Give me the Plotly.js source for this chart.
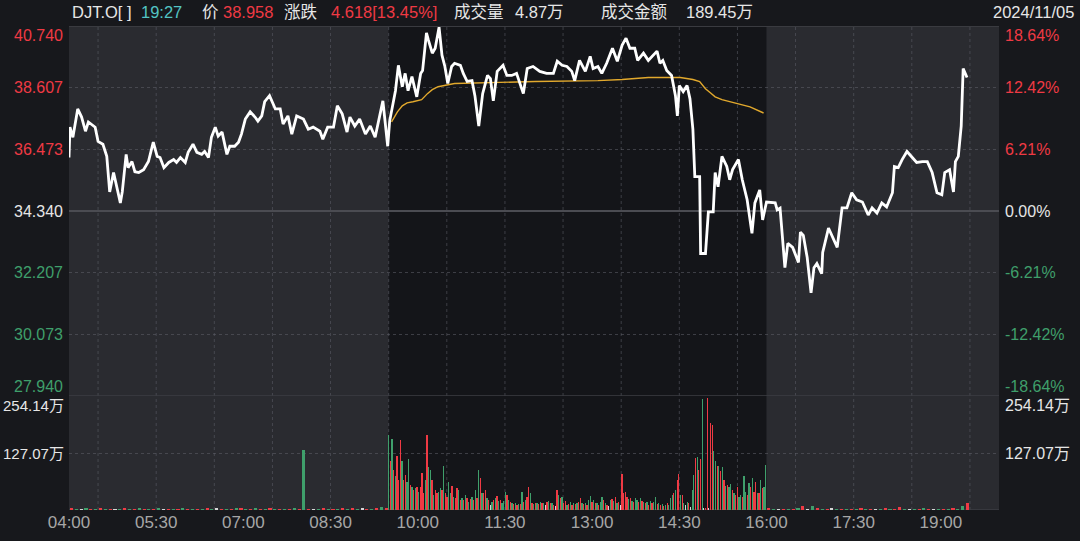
<!DOCTYPE html>
<html>
<head>
<meta charset="utf-8">
<script src="https://cdn.plot.ly/plotly-3.0.1.min.js"></script>
<style>html,body{margin:0;padding:0;background:#17181c;}#chart{width:1080px;height:541px;}</style>
</head>
<body>
<div id="chart"></div>
<script>
// ---------------- DATA ----------------
const tradeDate = [2024, 10, 5];
const prevClose = 34.340;

const priceTimes = ["04:00","04:01","04:04","04:09","04:13","04:17","04:20","04:23","04:27","04:30",
"04:35","04:39","04:42","04:46","04:49","04:53","04:55","04:59","05:01","05:05",
"05:08","05:12","05:17","05:22","05:27","05:31","05:34","05:38","05:43","05:48",
"05:51","05:55","06:00","06:03","06:08","06:12","06:17","06:20","06:24","06:27",
"06:31","06:34","06:38","06:43","06:46","06:51","06:55","06:58","07:02","07:07",
"07:12","07:15","07:19","07:22","07:27","07:33","07:38","07:41","07:46","07:50",
"07:55","08:02","08:07","08:12","08:19","08:22","08:27","08:33","08:37","08:42",
"08:47","08:50","08:55","09:00","09:06","09:11","09:16","09:21","09:24","09:29",
"09:31","09:37","09:40","09:44","09:47","09:50","09:54","09:59","10:03","10:05",
"10:09","10:11","10:15","10:18","10:22","10:25","10:28","10:31","10:35","10:38",
"10:44","10:47","10:51","10:56","10:59","11:03","11:07","11:12","11:15","11:18",
"11:22","11:28","11:32","11:37","11:42","11:49","11:53","11:59","12:06","12:13",
"12:20","12:24","12:29","12:34","12:39","12:42","12:47","12:53","12:58","13:01",
"13:06","13:10","13:15","13:21","13:26","13:31","13:35","13:39","13:44","13:47",
"13:53","13:58","14:03","14:07","14:10","14:13","14:17","14:22","14:26","14:28",
"14:30","14:34","14:38","14:41","14:44","14:46","14:51","14:52","14:57","15:00",
"15:05","15:07","15:10","15:14","15:19","15:22","15:25","15:31","15:35","15:40",
"15:45","15:48","15:53","15:56","16:00","16:09","16:11","16:14","16:19","16:22",
"16:27","16:33","16:35","16:38","16:42","16:46","16:49","16:52","16:57","16:58",
"17:04","17:08","17:13","17:18","17:23","17:28","17:33","17:39","17:45","17:49",
"17:54","17:59","18:04","18:10","18:12","18:16","18:20","18:25","18:30","18:35",
"18:41","18:46","18:51","18:56","19:01","19:04","19:09","19:13","19:15","19:18",
"19:21","19:23","19:27"];

const prices = [36.19,37.24,36.89,37.87,37.59,37.10,37.42,37.35,37.24,36.75,
36.65,36.23,35.00,35.67,35.25,34.62,35.00,36.30,35.84,36.05,
35.70,35.67,35.77,36.05,36.72,36.23,36.19,35.84,36.02,36.12,
36.02,36.19,36.02,36.37,36.65,36.37,36.30,36.40,36.19,36.89,
37.24,36.93,37.07,36.30,36.58,36.58,36.72,37.00,37.52,37.77,
37.59,37.45,37.63,38.12,38.33,37.87,37.87,37.35,37.63,37.00,
37.63,37.52,37.17,37.24,37.10,36.82,37.24,37.24,37.98,37.70,
37.07,37.59,37.28,37.52,37.00,37.28,36.89,37.63,38.15,36.58,
37.45,38.50,39.38,38.64,39.10,38.50,38.99,38.29,39.10,39.20,
40.50,40.25,39.80,39.97,40.70,39.73,39.34,38.75,39.34,39.45,
39.38,39.10,38.82,38.85,38.33,37.28,38.40,39.03,38.92,38.15,
39.17,39.38,39.03,39.03,39.10,38.40,39.27,39.34,39.17,39.10,
39.10,39.52,39.38,39.34,39.17,38.85,39.55,39.17,39.69,39.27,
39.34,39.10,39.45,39.97,39.52,40.08,40.32,39.97,39.97,39.55,
39.80,39.55,39.73,39.87,39.45,39.55,39.20,39.03,38.33,37.63,
38.68,38.47,38.68,38.22,37.17,35.53,35.53,32.87,32.87,34.31,
34.31,35.67,35.18,36.23,35.88,35.42,35.77,36.12,35.42,34.73,
33.57,34.62,35.07,34.03,34.65,34.62,34.38,34.44,32.38,33.22,
33.08,32.56,33.61,33.50,32.73,31.51,32.38,32.52,32.17,32.91,
33.75,33.43,33.08,34.45,34.45,34.97,34.73,34.65,34.20,34.45,
34.27,34.62,34.48,34.97,35.88,35.84,36.12,36.40,36.19,36.02,
36.05,36.05,35.67,34.97,34.90,35.67,35.77,35.00,36.05,36.23,
37.28,39.27,38.958];

const vwapTimes = ["09:33","09:39","09:44","09:49","09:55","10:04","10:10","10:15","10:21","10:30",
"10:38","12:01","13:06","13:31","13:58","14:31","14:44","14:51","14:57","15:02",
"15:07","15:14","15:22","15:33","15:43","15:57"];
const vwap = [37.42,37.77,37.98,38.08,38.12,38.19,38.40,38.54,38.64,38.71,
38.75,38.82,38.85,38.89,38.96,38.96,38.89,38.82,38.57,38.43,
38.29,38.19,38.12,38.05,37.94,37.73];

// volume (万股)
const preStart = "04:00", preStep = 5;
const preVol = [4,2,3,5,2,3,4,2,3,2, 3,4,2,3,5,3,2,3,4,3, 2,3,2,4,3,2,3,2,5,3,
                4,3,2,3,4,5,3,2,4,3, 3,4,2,3,2,3,4,3,133,3, 2,3,4,3,2,3,4,3,5,3, 4,3,2,4,6,5];
const preDir = "rgwgrgrgrwgrgrgrgrgwrgrgrgrgrgwrgrgrgrgrgrgrgrgrgrwgrgrgrgrgwrgrgr";

const regStart = "09:30", regEnd = "15:59";
const regVol = [168.2,108.4,158.5,89.7,74.8,121.1,67.3,157.0,108.4,67.3,
78.5,63.5,113.6,56.1,52.3,44.9,48.6,52.3,41.1,50.8,
82.2,37.4,67.3,168.2,95.7,89.7,67.3,33.6,44.9,37.4,
41.1,48.6,44.9,97.2,37.4,29.9,62.0,37.4,53.8,29.9,
26.2,48.6,44.9,22.4,26.2,22.4,33.6,26.2,18.7,23.9,
29.9,22.4,44.9,26.2,88.2,71.0,37.4,37.4,44.9,26.2,
22.4,11.2,18.7,22.4,26.2,32.1,20.9,22.4,16.4,20.9,
41.1,33.6,22.4,18.7,16.4,13.5,15.0,11.2,13.5,13.5,
41.1,18.7,22.4,29.9,50.8,37.4,15.0,13.5,15.0,15.0,
13.5,18.7,15.0,16.4,11.2,18.7,20.9,16.4,15.0,11.2,
9.0,44.9,33.6,26.2,29.9,15.0,20.9,11.2,13.5,18.7,
11.2,15.0,13.5,15.0,18.7,26.2,15.0,13.5,16.4,11.2,
22.4,31.4,18.7,22.4,16.4,15.0,11.2,18.7,29.9,22.4,
16.4,11.2,9.0,22.4,23.9,20.9,29.9,15.0,18.7,11.2,
80.0,37.4,41.1,29.9,23.9,26.2,20.9,18.7,26.2,22.4,
18.7,26.2,20.9,18.7,15.0,18.7,11.2,20.9,15.0,18.7,
28.4,13.5,16.4,11.2,13.5,9.0,11.2,15.0,11.2,26.2,
33.6,37.4,44.9,67.3,80.0,33.6,33.6,15.0,11.2,18.7,
15.0,7.5,44.9,78.5,115.9,118.1,89.7,114.4,248.2,3.7,
3.7,250.4,5.2,194.4,190.6,130.8,108.4,97.2,98.7,86.0,
95.7,67.3,53.8,56.1,50.8,58.3,44.9,37.4,33.6,52.3,
29.9,33.6,29.9,74.8,41.1,33.6,59.8,52.3,71.0,41.1,
63.5,37.4,38.9,67.3,48.6,50.8,100.9];
const regDir = "grgrgrrrgr" + "rggrgrgrgr" + "rrgrggrgrr" + "ggrgrrggrg" + "rrgrgrgrgr" +
               "grgrgrgrrg" + "rwgrgrgrgg" + "grgrgrgrgr" + "grgrrgrgrg" + "rgrgwrgrgr" +
               "wrgrgrrgrg" + "rgrgrrgrgr" + "ggrgrgrggr" + "grwgrgrgrw" + "rrrrgrgrgg" +
               "rgrgrgrgrg" + "grgrgrgrgg" + "grgrrgrgwg" + "rwggrgrrgw" + "rrwrrggrgr" +
               "grgrggrgrr" + "ggrggrgrgr" + "rgrgrgg";

const postStart = "16:00", postStep = 5;
const postVol = [4,3,2,3,2,3,4,8,3,10, 5,3,2,4,3,2,3,2,3,4, 3,2,3,2,4,3,3,7,3,2,
                 3,2,4,3,2,3,2,3,4,3, 8,15];
const postDir = "rgwrgrgrwg" + "rgrwgrgrgr" + "grwgrgrrgw" + "grgrwgrgrg" + "gr";

const xTickTimes = ["04:00","05:30","07:00","08:30","10:00","11:30","13:00","14:30","16:00","17:30","19:00"];
const vGridTimes = ["04:30","05:30","06:30","07:30","08:30","09:30","10:30","11:30","12:30","13:30",
                    "14:30","15:30","16:30","17:30","18:30","19:30"];
const priceTicks = [40.740, 38.607, 36.473, 34.340, 32.207, 30.073, 27.940];
const priceTickText = ["40.740","38.607","36.473","34.340","32.207","30.073","27.940"];
const pctTickText = ["18.64%","12.42%","6.21%","0.00%","-6.21%","-12.42%","-18.64%"];
const volTicks = [254.14, 127.07];
const volTickText = ["254.14万", "127.07万"];

const header = {symbol: "DJT.O[ ]", time: "19:27", priceLabel: "价", price: "38.958",
  chgLabel: "涨跌", chg: "4.618[13.45%]", volLabel: "成交量", vol: "4.87万",
  amtLabel: "成交金额", amt: "189.45万", date: "2024/11/05"};

// ---------------- BUILD ----------------
function toMs(t) { const [h, m] = t.split(":").map(Number); return Date.UTC(tradeDate[0], tradeDate[1], tradeDate[2], h, m); }
const MIN = 60000;
const RED = "#ef3a44", GREEN = "#3f9f6b", WHITE = "#d6d6d6", LABELW = "#e6e6e6";
const dirColor = c => c === "r" ? RED : (c === "g" ? GREEN : WHITE);
const FONT = "Liberation Sans, Arial, Helvetica, Noto Sans CJK SC, sans-serif";

const preX = preVol.map((v, i) => toMs(preStart) + i * preStep * MIN + preStep * MIN / 2);
const postX = postVol.map((v, i) => toMs(postStart) + i * postStep * MIN + postStep * MIN / 2);
const regStep = (toMs(regEnd) - toMs(regStart)) / (regVol.length - 1);
const regX = regVol.map((v, i) => toMs(regStart) + i * regStep);

const traces = [
  {type: "bar", x: preX, y: preVol, xaxis: "x", yaxis: "y2", width: 3.2 * MIN,
   marker: {color: preVol.map((v, i) => dirColor(preDir[i])), line: {width: 0}}, hoverinfo: "skip"},
  {type: "bar", x: regX, y: regVol, xaxis: "x", yaxis: "y2", width: regStep * 0.78,
   marker: {color: regVol.map((v, i) => dirColor(regDir[i])), line: {width: 0}}, hoverinfo: "skip"},
  {type: "bar", x: postX, y: postVol, xaxis: "x", yaxis: "y2", width: 3.2 * MIN,
   marker: {color: postVol.map((v, i) => dirColor(postDir[i])), line: {width: 0}}, hoverinfo: "skip"},
  {type: "scatter", mode: "lines", x: vwapTimes.map(toMs), y: vwap, xaxis: "x", yaxis: "y",
   line: {color: "#e2a92d", width: 1.4}, hoverinfo: "skip"},
  {type: "scatter", mode: "lines", x: priceTimes.map(toMs), y: prices, xaxis: "x", yaxis: "y",
   line: {color: "#ffffff", width: 2.8}, hoverinfo: "skip"}
];

const GRID = "rgba(95,97,105,0.55)";
const shapes = [
  {type: "rect", layer: "below", xref: "x", yref: "paper", x0: toMs("04:00"), x1: toMs("09:30"), y0: 0, y1: 1, fillcolor: "#2a2b30", line: {width: 0}},
  {type: "rect", layer: "below", xref: "x", yref: "paper", x0: toMs("09:30"), x1: toMs("16:00"), y0: 0, y1: 1, fillcolor: "#141519", line: {width: 0}},
  {type: "rect", layer: "below", xref: "x", yref: "paper", x0: toMs("16:00"), x1: toMs("20:00"), y0: 0, y1: 1, fillcolor: "#2a2b30", line: {width: 0}}
];
vGridTimes.forEach(t => shapes.push({type: "line", layer: "below", xref: "x", yref: "paper",
  x0: toMs(t), x1: toMs(t), y0: 0, y1: 1, line: {color: GRID, width: 1, dash: "dot"}}));
shapes.push({type: "line", layer: "below", xref: "paper", yref: "y", x0: 0, x1: 1, y0: 40.74, y1: 40.74, line: {color: "#3a3b40", width: 2}});
shapes.push({type: "line", layer: "below", xref: "paper", yref: "y", x0: 0, x1: 1, y0: prevClose, y1: prevClose, line: {color: "#4b4c52", width: 2}});
shapes.push({type: "line", layer: "below", xref: "paper", yref: "y", x0: 0, x1: 1, y0: 27.94, y1: 27.94, line: {color: "#3d3e43", width: 1.5}});
shapes.push({type: "line", layer: "below", xref: "paper", yref: "y2", x0: 0, x1: 1, y0: 0, y1: 0, line: {color: "#3d3e43", width: 1.5}});

const annotations = [];
function lab(text, x, xanchor, xshift, yref, y, yanchor, color, size) {
  annotations.push({text: text, xref: "paper", x: x, xanchor: xanchor, xshift: xshift,
    yref: yref, y: y, yanchor: yanchor, showarrow: false,
    font: {family: FONT, size: size || 16, color: color}, borderpad: 0});
}
priceTicks.forEach((v, i) => {
  const col = v > prevClose ? RED : (v < prevClose ? GREEN : LABELW);
  const ya = i === 0 ? "top" : (i === priceTicks.length - 1 ? "bottom" : "middle");
  lab(priceTickText[i], 0, "right", -5, "y", v, ya, col);
  lab(pctTickText[i], 1, "left", 5, "y", v, ya, col);
});
volTicks.forEach((v, i) => {
  const ya = i === 0 ? "top" : "middle";
  lab(volTickText[i], 0, "right", -4, "y2", v, ya, LABELW, 15);
  lab(volTickText[i], 1, "left", 5, "y2", v, ya, LABELW, 16);
});
// header
const HY = 1 + (26 - 12) / 484;
function hd(text, px, color, anchor) {
  annotations.push({text: text, xref: "paper", x: 0, xshift: px - 69, xanchor: anchor || "left",
    yref: "paper", y: HY, yanchor: "middle", showarrow: false, borderpad: 0,
    font: {family: FONT, size: 16.5, color: color}});
}
hd(header.symbol, 71, LABELW);
hd(header.time, 140, "#53c4c4");
hd(header.priceLabel, 201, LABELW);
hd(header.price, 222, RED);
hd(header.chgLabel, 283, LABELW);
hd(header.chg, 330, RED);
hd(header.volLabel, 453, LABELW);
hd(header.vol, 514, LABELW);
hd(header.amtLabel, 600, LABELW);
hd(header.amt, 685, LABELW);
hd(header.date, 1075, LABELW, "right");

const layout = {
  width: 1080, height: 541,
  margin: {l: 69, r: 81, t: 26, b: 31, pad: 0},
  paper_bgcolor: "#17181c", plot_bgcolor: "rgba(0,0,0,0)",
  showlegend: false, hovermode: false, barmode: "overlay", bargap: 0,
  font: {family: FONT, color: LABELW},
  xaxis: {type: "date", range: [toMs("04:00"), toMs("20:00")], anchor: "y2",
    tickmode: "array", tickvals: xTickTimes.map(toMs), ticktext: xTickTimes,
    tickfont: {family: FONT, size: 17, color: "#a6a6a6"}, showgrid: false, zeroline: false,
    showline: false, ticks: "", fixedrange: true},
  yaxis: {domain: [114 / 484, 1], range: [27.94, 40.74], tickmode: "array",
    tickvals: [38.607, 36.473, 32.207, 30.073], showticklabels: false, showgrid: true,
    gridcolor: GRID, griddash: "dot", gridwidth: 1, zeroline: false, showline: false, fixedrange: true},
  yaxis2: {domain: [0, 114 / 484], range: [0, 254.14], tickmode: "array", tickvals: [127.07],
    showticklabels: false, showgrid: true, gridcolor: GRID, griddash: "dot", gridwidth: 1,
    zeroline: false, showline: false, fixedrange: true},
  shapes: shapes, annotations: annotations
};

Plotly.newPlot("chart", traces, layout, {displayModeBar: false, staticPlot: true});
</script>
</body>
</html>
